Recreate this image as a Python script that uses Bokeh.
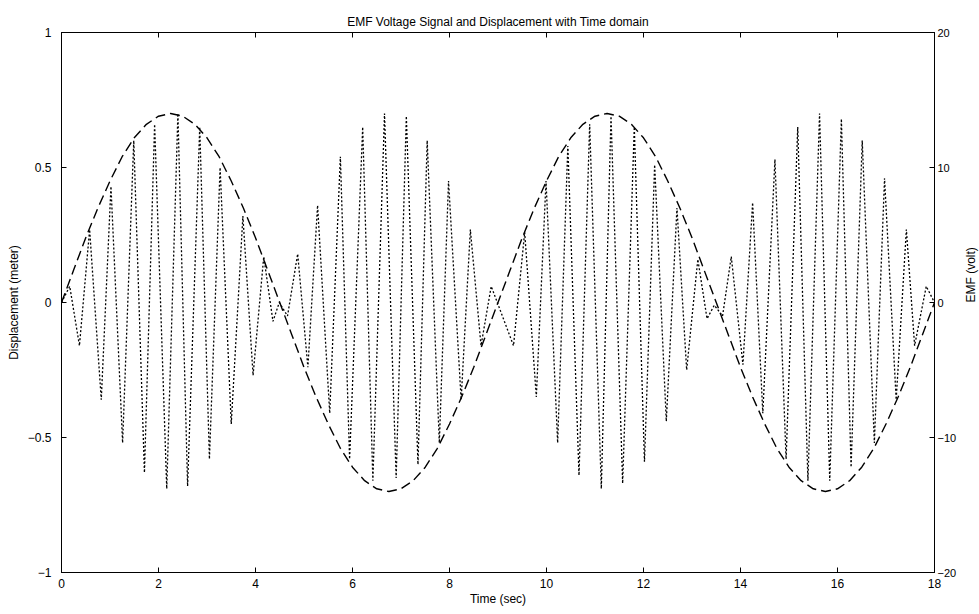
import math
from bokeh.plotting import figure
from bokeh.models import Range1d, LinearAxis, FixedTicker
from bokeh.embed import file_html
from bokeh.resources import INLINE

# ---- data ----
# Displacement (meter), sampled every 0.25 s from 0 to 18 s (dashed curve)
disp_time = [i * 0.25 for i in range(73)]
displacement = [
    0.00, 0.12, 0.24, 0.35, 0.45, 0.54, 0.61, 0.66, 0.69, 0.70, 0.69, 0.66, 0.61,
    0.54, 0.45, 0.35, 0.24, 0.12, 0.00, -0.12, -0.24, -0.35, -0.45, -0.54, -0.61,
    -0.66, -0.69, -0.70, -0.69, -0.66, -0.61, -0.54, -0.45, -0.35, -0.24, -0.12,
    0.00, 0.12, 0.24, 0.35, 0.45, 0.54, 0.61, 0.66, 0.69, 0.70, 0.69, 0.66, 0.61,
    0.54, 0.45, 0.35, 0.24, 0.12, 0.00, -0.12, -0.24, -0.35, -0.45, -0.54, -0.61,
    -0.66, -0.69, -0.70, -0.69, -0.66, -0.61, -0.54, -0.45, -0.35, -0.24, -0.12,
    0.00,
]

# EMF (volt): turning points of the dotted signal
emf_time = [
    0.00, 0.17, 0.37, 0.58, 0.82, 1.02, 1.26, 1.49, 1.71, 1.92, 2.17, 2.40, 2.60,
    2.85, 3.05, 3.27, 3.50, 3.74, 3.95, 4.17, 4.36, 4.49, 4.66, 4.87, 5.08, 5.28,
    5.53, 5.75, 5.94, 6.21, 6.42, 6.66, 6.90, 7.11, 7.35, 7.54, 7.79, 7.98, 8.24,
    8.43, 8.65, 8.86, 9.32, 9.55, 9.79, 9.99, 10.23, 10.44, 10.67, 10.89, 11.13,
    11.33, 11.57, 11.81, 12.02, 12.23, 12.47, 12.69, 12.89, 13.12, 13.31, 13.46,
    13.63, 13.81, 14.05, 14.25, 14.46, 14.71, 14.94, 15.18, 15.39, 15.63, 15.84,
    16.08, 16.28, 16.51, 16.76, 16.97, 17.21, 17.42, 17.59, 17.83, 18.00,
]
emf_volt = [
    0.0, 1.2, -3.2, 5.4, -7.2, 8.6, -10.4, 12.0, -12.6, 13.2, -13.8, 14.0, -13.6,
    13.0, -11.6, 10.0, -9.0, 6.4, -5.4, 3.4, -1.4, 0.0, -1.0, 3.6, -4.8, 7.2,
    -8.2, 10.8, -11.6, 13.0, -13.2, 14.0, -13.0, 13.8, -12.0, 12.0, -10.4, 9.0, -7.2,
    5.4, -3.2, 1.2, -3.2, 5.2, -7.0, 9.0, -10.4, 11.6, -12.8, 13.2, -13.8,
    13.8, -13.4, 13.0, -11.8, 10.2, -8.8, 7.0, -5.0, 3.2, -1.2, -0.2,
    -1.0, 3.4, -4.6, 7.4, -8.2, 10.6, -11.6, 13.0, -13.2, 14.0, -13.2,
    13.6, -12.2, 12.0, -10.4, 9.2, -7.2, 5.4, -3.2, 1.2, 0.0,
]

x_ticks = [0, 2, 4, 6, 8, 10, 12, 14, 16, 18]
y_ticks = [-1, -0.5, 0, 0.5, 1]
emf_ticks = [-20, -10, 0, 10, 20]

FONT = "Liberation Sans"

p = figure(
    frame_width=873, frame_height=540,
    x_range=Range1d(0, 18), y_range=Range1d(-1, 1),
    output_backend="svg", toolbar_location=None,
    title="EMF Voltage Signal and Displacement with Time domain",
    min_border_left=61, min_border_right=43, min_border_top=32, min_border_bottom=34,
)
p.extra_y_ranges = {"emf": Range1d(-20, 20)}

p.title.align = "center"
p.title.vertical_align = "top"
p.title.text_font = FONT
p.title.text_font_size = "12px"
p.title.text_font_style = "normal"
p.title.text_color = "black"
p.title.offset = 0
p.title.standoff = 4

p.grid.visible = False
p.outline_line_color = "black"
p.outline_line_width = 1
p.background_fill_color = "white"
p.border_fill_color = "white"


def style_axis(ax, show_labels=True):
    ax.major_tick_in = 5
    ax.major_tick_out = 0
    ax.minor_tick_line_color = None
    ax.axis_line_color = "black"
    ax.major_tick_line_color = "black"
    ax.major_label_text_font = FONT
    ax.major_label_text_font_size = "12px"
    ax.major_label_text_color = "black" if show_labels else None
    ax.major_label_standoff = 4
    ax.axis_label_text_font = FONT
    ax.axis_label_text_font_size = "12px"
    ax.axis_label_text_font_style = "normal"
    ax.axis_label_text_color = "black"
    ax.axis_label_standoff = 4


p.xaxis.ticker = FixedTicker(ticks=x_ticks)
p.yaxis.ticker = FixedTicker(ticks=y_ticks)
p.xaxis.axis_label = "Time (sec)"
p.yaxis.axis_label = "Displacement (meter)"
style_axis(p.xaxis[0])
style_axis(p.yaxis[0])
p.xaxis.major_label_standoff = 6
p.xaxis.axis_label_standoff = 1
p.yaxis.major_label_standoff = 10

right = LinearAxis(y_range_name="emf", ticker=FixedTicker(ticks=emf_ticks),
                   axis_label="EMF (volt)")
style_axis(right)
right.major_label_text_font_size = "11px"
right.major_label_standoff = 3
right.axis_label_standoff = 12
right.axis_label_orientation = math.pi / 2
p.add_layout(right, "right")

top = LinearAxis(ticker=FixedTicker(ticks=x_ticks))
style_axis(top, show_labels=False)
top.major_label_standoff = 0
p.add_layout(top, "above")

# displacement (dashed)
p.line(disp_time, displacement, line_color="black", line_width=1.4,
       line_dash="10 5")
# EMF (dotted) on the right axis scale
p.line(emf_time, emf_volt, y_range_name="emf", line_color="black",
       line_width=1.3, line_dash="2 2")

open("out.html", "w").write(file_html(p, INLINE))
